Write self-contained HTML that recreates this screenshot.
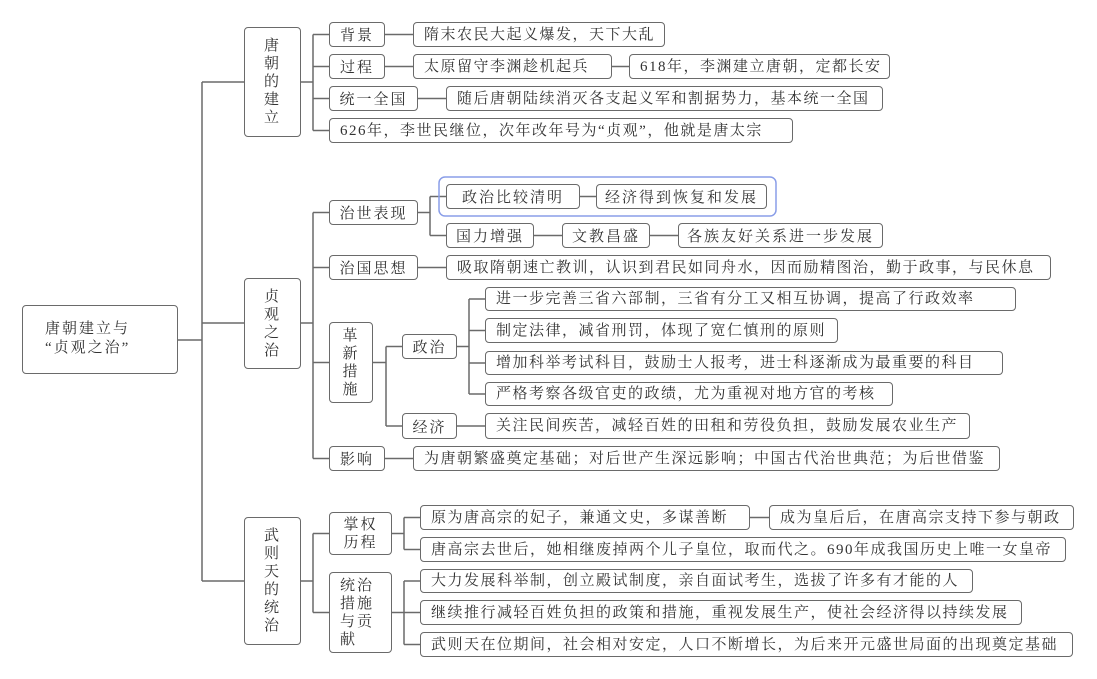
<!DOCTYPE html>
<html><head><meta charset="utf-8">
<style>
body{margin:0;width:1097px;height:679px;background:#fff;position:relative;overflow:hidden;font-family:"Liberation Serif","Noto Serif CJK SC",serif;color:#333}
.b{position:absolute;box-sizing:border-box;border:1.5px solid #6a6a6a;border-radius:4px;background:#fff;font-size:15px;white-space:nowrap;display:flex;align-items:center;justify-content:center;letter-spacing:2px;}
.v{line-height:18px;text-align:center;flex-direction:column}
.l{justify-content:flex-start;padding-left:10px;line-height:18px;letter-spacing:1.5px}
svg{position:absolute;left:0;top:0}
</style></head><body>
<svg width="1097" height="679"><g stroke="#6a6a6a" stroke-width="1.5" fill="none">
<path d="M178 340H202M202 82V581M202 82H244M202 323H244M202 581H244"/>
<path d="M301 82H313M313 34.5V130.5M313 34.5H329M313 66.5H329M313 98.5H329M313 130.5H329"/>
<path d="M385 34.5H413M385 66.5H413M612 66.5H629M418 98.5H446"/>
<path d="M301 323H313M313 212.5V458.5M313 212.5H329M313 267.5H329M313 362.5H329M313 458.5H329"/>
<path d="M418 212.5H430M430 196.5V235.5M430 196.5H446M430 235.5H446M580 196.5H596M534 235.5H562M650 235.5H678M418 267.5H446"/>
<path d="M373 362.5H386M386 346.5V426M386 346.5H402M386 426H402"/>
<path d="M457 346.5H469M469 299V394M469 299H485M469 330.5H485M469 363H485M469 394H485M457 426H485M385 458.5H413"/>
<path d="M301 581H313M313 533.5V612.5M313 533.5H329M313 612.5H329"/>
<path d="M392 533.5H404M404 517.5V549.5M404 517.5H420M404 549.5H420M750 517.5H769"/>
<path d="M392 612.5H404M404 581V644.5M404 581H420M404 612.5H420M404 644.5H420"/>
</g>
<rect x="439" y="177" width="337" height="39" rx="6" fill="none" stroke="#8a9ee8" stroke-width="1.5"/>
</svg>

<div class="b" style="left:22px;top:305px;width:156px;height:69px;line-height:19px;justify-content:flex-start;padding-left:22px;flex-direction:column;align-items:flex-start;"><div style="margin-top:14px">唐朝建立与</div><div>“贞观之治”</div></div>

<div class="b v" style="left:244px;top:27px;width:57px;height:110px">唐<br>朝<br>的<br>建<br>立</div>
<div class="b v" style="left:244px;top:278px;width:57px;height:91px">贞<br>观<br>之<br>治</div>
<div class="b v" style="left:244px;top:517px;width:57px;height:128px">武<br>则<br>天<br>的<br>统<br>治</div>

<div class="b" style="left:329px;top:22px;width:56px;height:25px">背景</div>
<div class="b" style="left:329px;top:54px;width:56px;height:25px">过程</div>
<div class="b" style="left:329px;top:86px;width:89px;height:25px">统一全国</div>
<div class="b l" style="left:329px;top:118px;width:464px;height:25px">626年，李世民继位，次年改年号为“贞观”，他就是唐太宗</div>
<div class="b l" style="left:413px;top:22px;width:252px;height:25px">隋末农民大起义爆发，天下大乱</div>
<div class="b l" style="left:413px;top:54px;width:199px;height:25px">太原留守李渊趁机起兵</div>
<div class="b l" style="left:629px;top:54px;width:261px;height:25px">618年，李渊建立唐朝，定都长安</div>
<div class="b l" style="left:446px;top:86px;width:437px;height:25px">随后唐朝陆续消灭各支起义军和割据势力，基本统一全国</div>

<div class="b" style="left:329px;top:200px;width:89px;height:25px">治世表现</div>
<div class="b" style="left:446px;top:184px;width:134px;height:25px">政治比较清明</div>
<div class="b" style="left:596px;top:184px;width:171px;height:25px">经济得到恢复和发展</div>
<div class="b" style="left:446px;top:223px;width:88px;height:25px">国力增强</div>
<div class="b" style="left:562px;top:223px;width:88px;height:25px">文教昌盛</div>
<div class="b" style="left:678px;top:223px;width:205px;height:25px">各族友好关系进一步发展</div>
<div class="b" style="left:329px;top:255px;width:89px;height:25px">治国思想</div>
<div class="b l" style="left:446px;top:255px;width:605px;height:25px">吸取隋朝速亡教训，认识到君民如同舟水，因而励精图治，勤于政事，与民休息</div>
<div class="b v" style="left:329px;top:322px;width:44px;height:81px">革<br>新<br>措<br>施</div>
<div class="b" style="left:402px;top:334px;width:55px;height:25px">政治</div>
<div class="b" style="left:402px;top:413px;width:55px;height:26px">经济</div>
<div class="b l" style="left:485px;top:287px;width:531px;height:24px">进一步完善三省六部制，三省有分工又相互协调，提高了行政效率</div>
<div class="b l" style="left:485px;top:318px;width:353px;height:25px">制定法律，减省刑罚，体现了宽仁慎刑的原则</div>
<div class="b l" style="left:485px;top:351px;width:518px;height:24px">增加科举考试科目，鼓励士人报考，进士科逐渐成为最重要的科目</div>
<div class="b l" style="left:485px;top:382px;width:408px;height:24px">严格考察各级官吏的政绩，尤为重视对地方官的考核</div>
<div class="b l" style="left:485px;top:413px;width:485px;height:26px">关注民间疾苦，减轻百姓的田租和劳役负担，鼓励发展农业生产</div>
<div class="b" style="left:329px;top:446px;width:56px;height:25px">影响</div>
<div class="b l" style="left:413px;top:446px;width:587px;height:25px">为唐朝繁盛奠定基础；对后世产生深远影响；中国古代治世典范；为后世借鉴</div>

<div class="b" style="left:329px;top:512px;width:63px;height:43px;line-height:18px;text-align:center">掌权<br>历程</div>
<div class="b" style="left:329px;top:572px;width:63px;height:81px;line-height:18px;flex-direction:column;align-items:flex-start;padding-left:10px"><div>统治</div><div>措施</div><div>与贡</div><div>献</div></div>
<div class="b l" style="left:420px;top:505px;width:330px;height:25px">原为唐高宗的妃子，兼通文史，多谋善断</div>
<div class="b l" style="left:769px;top:505px;width:305px;height:25px">成为皇后后，在唐高宗支持下参与朝政</div>
<div class="b l" style="left:420px;top:537px;width:646px;height:25px">唐高宗去世后，她相继废掉两个儿子皇位，取而代之。690年成我国历史上唯一女皇帝</div>
<div class="b l" style="left:420px;top:569px;width:553px;height:24px">大力发展科举制，创立殿试制度，亲自面试考生，选拔了许多有才能的人</div>
<div class="b l" style="left:420px;top:600px;width:602px;height:25px">继续推行减轻百姓负担的政策和措施，重视发展生产，使社会经济得以持续发展</div>
<div class="b l" style="left:420px;top:632px;width:653px;height:25px">武则天在位期间，社会相对安定，人口不断增长，为后来开元盛世局面的出现奠定基础</div>
</body></html>
